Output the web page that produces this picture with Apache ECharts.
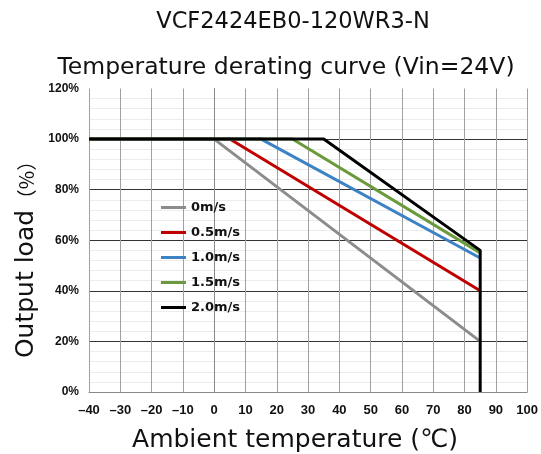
<!DOCTYPE html>
<html>
<head>
<meta charset="utf-8">
<script src="https://cdn.jsdelivr.net/npm/echarts@6/dist/echarts.min.js"></script>
<style>
  html, body { margin: 0; padding: 0; background: #fff; }
  #chart { width: 541px; height: 454px; }
</style>
</head>
<body>
<div id="chart"></div>
<script>
// airflow cases
const airflow = ['0m/s', '0.5m/s', '1.0m/s', '1.5m/s', '2.0m/s'];
const lineColors = ['#8c8c8c', '#c00000', '#3d82c4', '#6b9a3c', '#000000'];
// temperature where derating begins (load 100%) and load at 85°C
const derateStart = [0, 5, 15, 25, 35];
const loadAt85 = [20, 40, 53, 55, 56];
const minTemp = -40;
const maxTemp = 85;

const mainFont = 'DejaVu Sans';
const tickFont = 'Liberation Sans';

const series = airflow.map((name, i) => {
  const pts = [[minTemp, 100], [derateStart[i], 100], [maxTemp, loadAt85[i]]];
  if (i === airflow.length - 1) pts.push([maxTemp, 0]);
  return {
    name: name,
    type: 'line',
    data: pts,
    showSymbol: false,
    symbol: 'none',
    lineStyle: { color: lineColors[i], width: 3 },
    itemStyle: { color: lineColors[i] },
    z: 2 + i
  };
});

const chart = echarts.init(document.getElementById('chart'));
chart.setOption({
  animation: false,
  backgroundColor: '#fff',
  title: [
    {
      text: 'VCF2424EB0-120WR3-N',
      left: 288, top: 6, textAlign: 'center',
      textStyle: { fontFamily: mainFont, fontWeight: 'normal', fontSize: 22.5, color: '#111' }
    },
    {
      text: 'Temperature derating curve (Vin=24V)',
      left: 281, top: 51, textAlign: 'center',
      textStyle: { fontFamily: mainFont, fontWeight: 'normal', fontSize: 23.5, color: '#111' }
    }
  ],
  legend: {
    orient: 'vertical',
    left: 156, top: 196,
    icon: 'rect',
    itemWidth: 25, itemHeight: 3,
    itemGap: 12,
    data: airflow,
    textStyle: { fontFamily: mainFont, fontWeight: 'bold', fontSize: 13, color: '#111' }
  },
  grid: { left: 89, right: 13, top: 88.5, bottom: 62, containLabel: false },
  xAxis: {
    type: 'value',
    min: -40, max: 100, interval: 10,
    axisLine: { show: true, lineStyle: { color: '#888', width: 1 } },
    axisTick: { show: false },
    axisLabel: {
      margin: 12,
      fontFamily: tickFont, fontWeight: 'bold', fontSize: 13, color: '#111',
      formatter: v => String(v).replace('-', '\u2013')
    },
    splitLine: { show: true, lineStyle: { color: '#a0a0a0', width: 1 } }
  },
  yAxis: {
    type: 'value',
    min: 0, max: 120, interval: 20,
    axisLine: { show: true, lineStyle: { color: '#888', width: 1 } },
    axisTick: { show: false },
    axisLabel: {
      margin: 10,
      fontFamily: tickFont, fontWeight: 'bold', fontSize: 12, color: '#111',
      formatter: '{value}%'
    },
    splitLine: {
      show: true,
      lineStyle: { color: ['#888', '#333', '#333', '#333', '#333', '#333', 'rgba(0,0,0,0)'], width: 1 }
    },
    minorTick: { show: false, splitNumber: 5 },
    minorSplitLine: { show: true, lineStyle: { color: '#ececec', width: 1 } }
  },
  graphic: [
    {
      type: 'text',
      x: 26, y: 284,
      rotation: Math.PI / 2,
      style: {
        text: 'Output load',
        font: '25px "DejaVu Sans"',
        fill: '#111',
        align: 'center',
        verticalAlign: 'middle'
      }
    },
    {
      type: 'text',
      x: 26, y: 180,
      rotation: Math.PI / 2,
      style: {
        text: '（%）',
        font: '20px "Noto Sans CJK SC"',
        fill: '#111',
        align: 'center',
        verticalAlign: 'middle'
      }
    },
    {
      type: 'text',
      x: 295, y: 440,
      style: {
        text: 'Ambient temperature (℃)',
        font: '25px "DejaVu Sans", "Noto Sans CJK SC"',
        fill: '#111',
        align: 'center',
        verticalAlign: 'middle'
      }
    }
  ],
  series: series
});
</script>
</body>
</html>
